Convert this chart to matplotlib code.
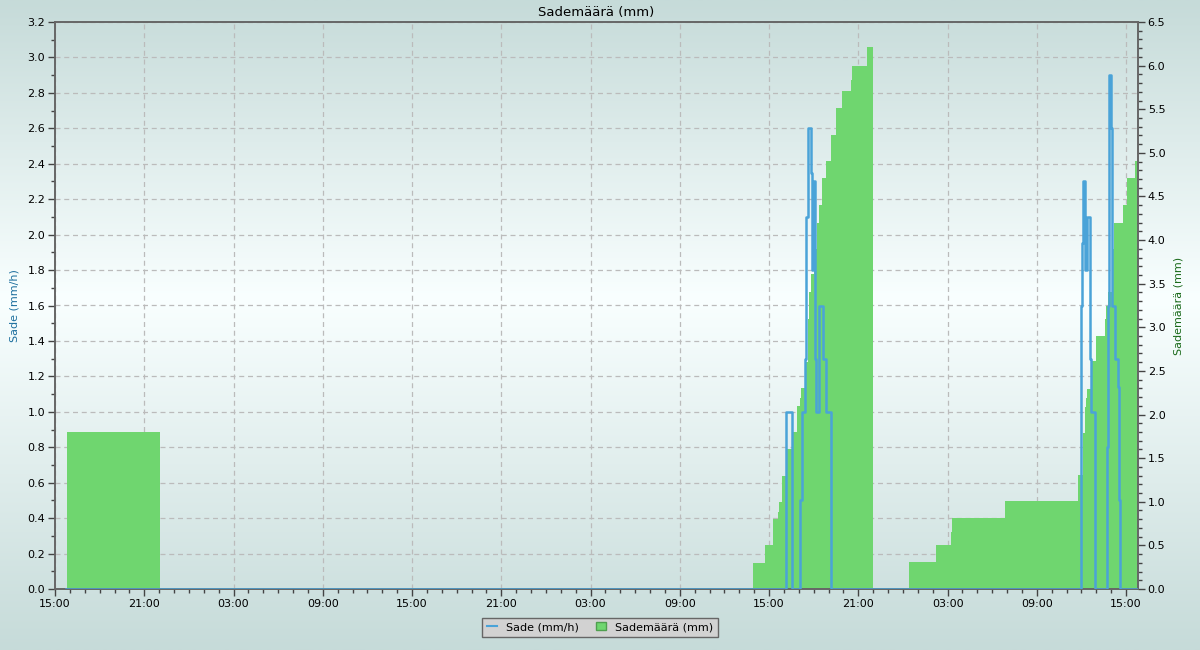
import numpy as np
import matplotlib
matplotlib.use("Agg")
import matplotlib.pyplot as plt
from matplotlib.ticker import MultipleLocator, FuncFormatter, FormatStrFormatter
from matplotlib.lines import Line2D
from matplotlib.patches import Patch
from matplotlib.colors import LinearSegmentedColormap

# ---- data (time in hours since 15:00 on day 1) ----
green_t = [0.8, 7.06, 46.95, 47.71, 48.24, 48.58, 48.69, 48.90, 49.21, 49.55,
           49.89, 50.07, 50.18, 50.40, 50.60, 50.69, 50.81, 51.00, 51.21, 51.34,
           51.55, 51.81, 52.15, 52.49, 52.91, 53.51, 53.60, 54.58, 54.98, 57.42,
           59.24, 60.25, 60.31, 63.89, 68.79, 69.11, 69.22, 69.30, 69.38, 69.69,
           69.96, 70.56, 70.68, 70.77, 71.08, 71.17, 71.77, 72.06, 72.62, 72.80]
green_v = [1.80, 0, 0.30, 0.50, 0.80, 0.88, 1.00, 1.30, 1.61, 1.80,
           2.10, 2.19, 2.30, 2.60, 3.10, 3.40, 3.61, 3.90, 4.20, 4.40,
           4.71, 4.91, 5.20, 5.51, 5.71, 5.84, 6.00, 6.21, 0, 0.31,
           0.51, 0.65, 0.81, 1.01, 1.31, 1.79, 2.09, 2.19, 2.29, 2.61,
           2.90, 3.10, 3.24, 3.40, 3.90, 4.20, 4.40, 4.71, 4.91, 4.91]

blue_t = [0.75, 49.14, 49.51, 50.11, 50.20, 50.40, 50.51, 50.60, 50.81, 50.89,
          50.96, 51.08, 51.12, 51.16, 51.34, 51.61, 51.81, 52.15, 69.00, 69.04,
          69.11, 69.24, 69.38, 69.54, 69.58, 69.62, 69.89, 70.74, 70.78, 70.83,
          71.01, 71.08, 71.24, 71.46, 71.52, 71.59, 72.80]
blue_v = [0, 1.0, 0, 0.5, 1.0, 1.3, 2.1, 2.6, 2.35, 1.8,
          2.3, 1.95, 1.3, 1.0, 1.6, 1.3, 1.0, 0, 1.6, 1.95,
          2.3, 1.8, 2.1, 1.95, 1.3, 1.0, 0, 0.8, 1.6, 2.9,
          2.6, 1.6, 1.3, 1.14, 0.5, 0, 0]

start_hour = 15
x_max = 72.8
left_max = 3.2
right_max = 6.5

title = "Sademäärä (mm)"
left_label = "Sade (mm/h)"
right_label = "Sademäärä (mm)"
legend_labels = ["Sade (mm/h)", "Sademäärä (mm)"]

GREEN = "#6fd66f"
BLUE = "#4aa3d8"

fig = plt.figure(figsize=(12, 6.5), dpi=100)

# background gradient
bg = fig.add_axes([0, 0, 1, 1], zorder=-10)
cmap = LinearSegmentedColormap.from_list(
    "bg", [(0.0, "#c6dbd9"), (0.46, "#f9ffff"), (1.0, "#c6dbd9")])
grad = np.linspace(0, 1, 256).reshape(-1, 1)
bg.imshow(grad, aspect="auto", cmap=cmap, extent=[0, 1, 0, 1], origin="upper")
bg.axis("off")

L, R, B, T = 55 / 1200, 1138 / 1200, 1 - 589 / 650, 1 - 22 / 650
ax = fig.add_axes([L, B, R - L, T - B])   # green (right scale)
ax.patch.set_alpha(0)
ax2 = ax.twinx()                           # blue (left scale)

# green cumulative amount
ax.fill_between(green_t, green_v, step="post", color=GREEN, lw=0, zorder=2)
ax.set_ylim(0, right_max)
ax.set_xlim(0, x_max)

# grid lines below green, at left-axis major ticks
for v in np.arange(0, left_max + 0.001, 0.2):
    ax.axhline(v * right_max / left_max, color="#bbbbbb", ls=(0, (4, 3)),
               lw=0.9, zorder=1)
ax.grid(axis="x", color="#bbbbbb", ls=(0, (4, 3)), lw=0.9)
ax.set_axisbelow(True)

# blue rain intensity
ax2.plot(blue_t, blue_v, drawstyle="steps-post", color=BLUE, lw=1.8, zorder=3)
ax2.set_ylim(0, left_max)

# axes sides
ax.yaxis.tick_right()
ax.yaxis.set_label_position("right")
ax2.yaxis.tick_left()
ax2.yaxis.set_label_position("left")

ax.yaxis.set_major_locator(MultipleLocator(0.5))
ax.yaxis.set_minor_locator(MultipleLocator(0.1))
ax.yaxis.set_major_formatter(FormatStrFormatter("%.1f"))
ax2.yaxis.set_major_locator(MultipleLocator(0.2))
ax2.yaxis.set_minor_locator(MultipleLocator(0.1))
ax2.yaxis.set_major_formatter(FormatStrFormatter("%.1f"))

ax.xaxis.set_major_locator(MultipleLocator(6))
ax.xaxis.set_minor_locator(MultipleLocator(1))
ax.xaxis.set_major_formatter(
    FuncFormatter(lambda x, p: f"{int(round(start_hour + x)) % 24:02d}:00"))

for a in (ax, ax2):
    a.tick_params(which="major", length=5, width=1, color="#444444",
                  labelsize=8, direction="out", pad=2)
    a.tick_params(which="minor", length=3, width=1, color="#444444",
                  direction="out")
    for s in a.spines.values():
        s.set_color("#666666")
        s.set_linewidth(1.2)

ax.set_ylabel(right_label, color="#1a6a1a", fontsize=8, labelpad=6)
ax2.set_ylabel(left_label, color="#1d6f9e", fontsize=8, labelpad=6)
ax.set_title(title, fontsize=9.5, pad=4)

handles = [Line2D([0], [0], color=BLUE, lw=1.5),
           Patch(facecolor=GREEN, edgecolor="#4f9f4f")]
leg = fig.legend(handles, legend_labels, loc="center",
                 bbox_to_anchor=(600 / 1200, 1 - 627 / 650), ncol=2,
                 fontsize=8, frameon=True, fancybox=False,
                 facecolor="#d2d2d2", edgecolor="#666666", framealpha=1,
                 handlelength=0.9, handleheight=0.8, handletextpad=0.8,
                 columnspacing=1.6, borderpad=0.4)
leg.get_frame().set_linewidth(1)

fig.savefig("out.png", dpi=100)
